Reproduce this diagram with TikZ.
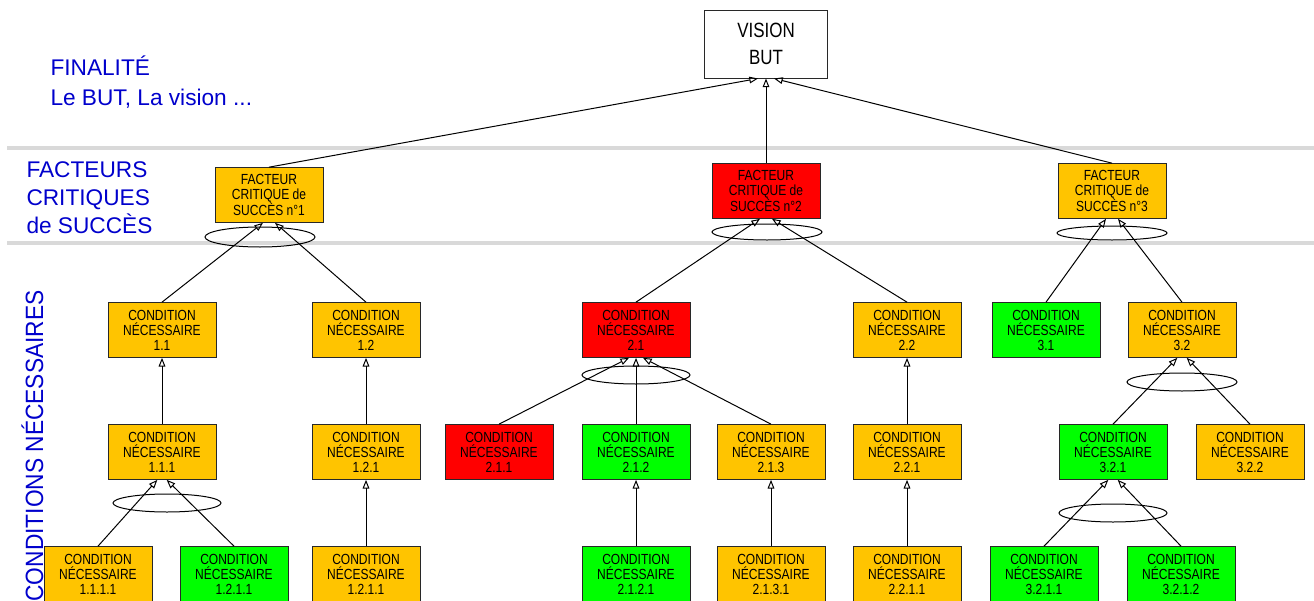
\documentclass[tikz,border=0pt]{standalone}
\usepackage{fontspec}
\setmainfont{Liberation Sans}
\newfontfamily\boitefont[FakeStretch=0.82]{Liberation Sans}
\newfontfamily\etagefont[FakeStretch=0.91]{Liberation Sans}
\usetikzlibrary{arrows.meta}

\definecolor{orangeCN}{RGB}{255,196,0}
\definecolor{vertCN}{RGB}{0,255,0}
\definecolor{rougeCN}{RGB}{255,0,0}
\definecolor{bleuTitre}{RGB}{0,0,204}
\definecolor{grisLigne}{RGB}{217,217,217}
\definecolor{bordBoite}{RGB}{40,40,40}

\tikzset{every picture/.style={line width=0.75pt}}
\tikzset{
  boite/.style={draw=bordBoite, fill=orangeCN, minimum width=81pt, minimum height=41pt, inner sep=0.75pt, align=center, font=\boitefont\fontsize{11}{11.25}\selectfont},
  vision/.style={draw=bordBoite, fill=white, minimum width=92pt, minimum height=51pt, inner sep=0.75pt, align=center, font=\boitefont\fontsize{15.5}{20}\selectfont},
  titre/.style={anchor=base west, inner sep=0pt, text=bleuTitre, font=\fontsize{17}{21}\selectfont},
  lien/.style={-{Triangle[open,length=6.5pt,width=5pt]}},
  etage/.style={grisLigne, line width=3pt},
}

\begin{document}
\begin{tikzpicture}[x=0.75pt,y=0.75pt,yscale=-1,xscale=1]
\useasboundingbox (0,0) rectangle (1314,600);

%Straight Lines : etages
\draw [etage] (7,148) -- (1314,148);
\draw [etage] (7,243) -- (1314,243);

% Text Node : titres
\node [titre] (fin1) at (50,75) {FINALITÉ};
\node [titre] (fin2) at (50,105) {Le BUT, La vision ...};
\node [titre] (fac1) at (26,177) {FACTEURS};
\node [titre] (fac2) at (26,205) {CRITIQUES};
\node [titre] (fac3) at (26,233) {de SUCCÈS};
\node [titre, anchor=base east, rotate=90, font=\etagefont\fontsize{18.75}{22}\selectfont] (cond) at (43,290) {CONDITIONS NÉCESSAIRES};

% Vision
\node [vision] (but) at (766,44) {VISION\\BUT};

% Facteurs critiques
\node [boite] (fcs1) at (269,195) {FACTEUR\\CRITIQUE de\\SUCCÈS n°1};
\node [boite, fill=rougeCN] (fcs2) at (766,191) {FACTEUR\\CRITIQUE de\\SUCCÈS n°2};
\node [boite] (fcs3) at (1112,191) {FACTEUR\\CRITIQUE de\\SUCCÈS n°3};

% Conditions niveau 1
\node [boite] (c11) at (162,330) {CONDITION\\NÉCESSAIRE\\1.1};
\node [boite] (c12) at (366,330) {CONDITION\\NÉCESSAIRE\\1.2};
\node [boite, fill=rougeCN] (c21) at (636,330) {CONDITION\\NÉCESSAIRE\\2.1};
\node [boite] (c22) at (907,330) {CONDITION\\NÉCESSAIRE\\2.2};
\node [boite, fill=vertCN] (c31) at (1046,330) {CONDITION\\NÉCESSAIRE\\3.1};
\node [boite] (c32) at (1182,330) {CONDITION\\NÉCESSAIRE\\3.2};

% Conditions niveau 2
\node [boite] (c111) at (162,452) {CONDITION\\NÉCESSAIRE\\1.1.1};
\node [boite] (c121) at (366,452) {CONDITION\\NÉCESSAIRE\\1.2.1};
\node [boite, fill=rougeCN] (c211) at (499,452) {CONDITION\\NÉCESSAIRE\\2.1.1};
\node [boite, fill=vertCN] (c212) at (636,452) {CONDITION\\NÉCESSAIRE\\2.1.2};
\node [boite] (c213) at (771,452) {CONDITION\\NÉCESSAIRE\\2.1.3};
\node [boite] (c221) at (907,452) {CONDITION\\NÉCESSAIRE\\2.2.1};
\node [boite, fill=vertCN] (c321) at (1113,452) {CONDITION\\NÉCESSAIRE\\3.2.1};
\node [boite] (c322) at (1250,452) {CONDITION\\NÉCESSAIRE\\3.2.2};

% Conditions niveau 3
\node [boite] (c1111) at (98,574) {CONDITION\\NÉCESSAIRE\\1.1.1.1};
\node [boite, fill=vertCN] (c1112) at (234,574) {CONDITION\\NÉCESSAIRE\\1.2.1.1};
\node [boite] (c1211) at (366,574) {CONDITION\\NÉCESSAIRE\\1.2.1.1};
\node [boite, fill=vertCN] (c2121) at (636,574) {CONDITION\\NÉCESSAIRE\\2.1.2.1};
\node [boite] (c2131) at (771,574) {CONDITION\\NÉCESSAIRE\\2.1.3.1};
\node [boite] (c2211) at (907,574) {CONDITION\\NÉCESSAIRE\\2.2.1.1};
\node [boite, fill=vertCN] (c3211) at (1044,574) {CONDITION\\NÉCESSAIRE\\3.2.1.1};
\node [boite, fill=vertCN] (c3212) at (1181,574) {CONDITION\\NÉCESSAIRE\\3.2.1.2};

%Shape: Ellipse (ET)
\draw (260,237) ellipse [x radius=55, y radius=10];
\draw (767,232) ellipse [x radius=55, y radius=8];
\draw (1112,233) ellipse [x radius=55, y radius=7];
\draw (636,375) ellipse [x radius=54, y radius=9];
\draw (1182,382) ellipse [x radius=55, y radius=9];
\draw (167,503) ellipse [x radius=54, y radius=9];
\draw (1113,513) ellipse [x radius=54, y radius=9];

%Straight Lines : vers la vision
\draw [lien] (fcs1.north) -- ([xshift=-6pt]but.south);
\draw [lien] (fcs2.north) -- (but.south);
\draw [lien] (fcs3.north) -- ([xshift=6pt]but.south);
%Straight Lines : vers les facteurs
\draw [lien] (c11.north) -- ([xshift=-4.5pt]fcs1.south);
\draw [lien] (c12.north) -- ([xshift=4.5pt]fcs1.south);
\draw [lien] (c21.north) -- ([xshift=-4.5pt]fcs2.south);
\draw [lien] (c22.north) -- ([xshift=4.5pt]fcs2.south);
\draw [lien] (c31.north) -- ([xshift=-4.5pt]fcs3.south);
\draw [lien] (c32.north) -- ([xshift=4.5pt]fcs3.south);
%Straight Lines : niveau 2
\draw [lien] (c111.north) -- (c11.south);
\draw [lien] (c121.north) -- (c12.south);
\draw [lien] (c211.north) -- ([xshift=-5.25pt]c21.south);
\draw [lien] (c212.north) -- (c21.south);
\draw [lien] (c213.north) -- ([xshift=5.25pt]c21.south);
\draw [lien] (c221.north) -- (c22.south);
\draw [lien] (c321.north) -- ([xshift=-3.5pt]c32.south);
\draw [lien] (c322.north) -- ([xshift=3.5pt]c32.south);
%Straight Lines : niveau 3
\draw [lien] (c1111.north) -- ([xshift=-3.5pt]c111.south);
\draw [lien] (c1112.north) -- ([xshift=3.5pt]c111.south);
\draw [lien] (c1211.north) -- (c121.south);
\draw [lien] (c2121.north) -- (c212.south);
\draw [lien] (c2131.north) -- (c213.south);
\draw [lien] (c2211.north) -- (c221.south);
\draw [lien] (c3211.north) -- ([xshift=-3.5pt]c321.south);
\draw [lien] (c3212.north) -- ([xshift=3.5pt]c321.south);

\end{tikzpicture}
\end{document}
